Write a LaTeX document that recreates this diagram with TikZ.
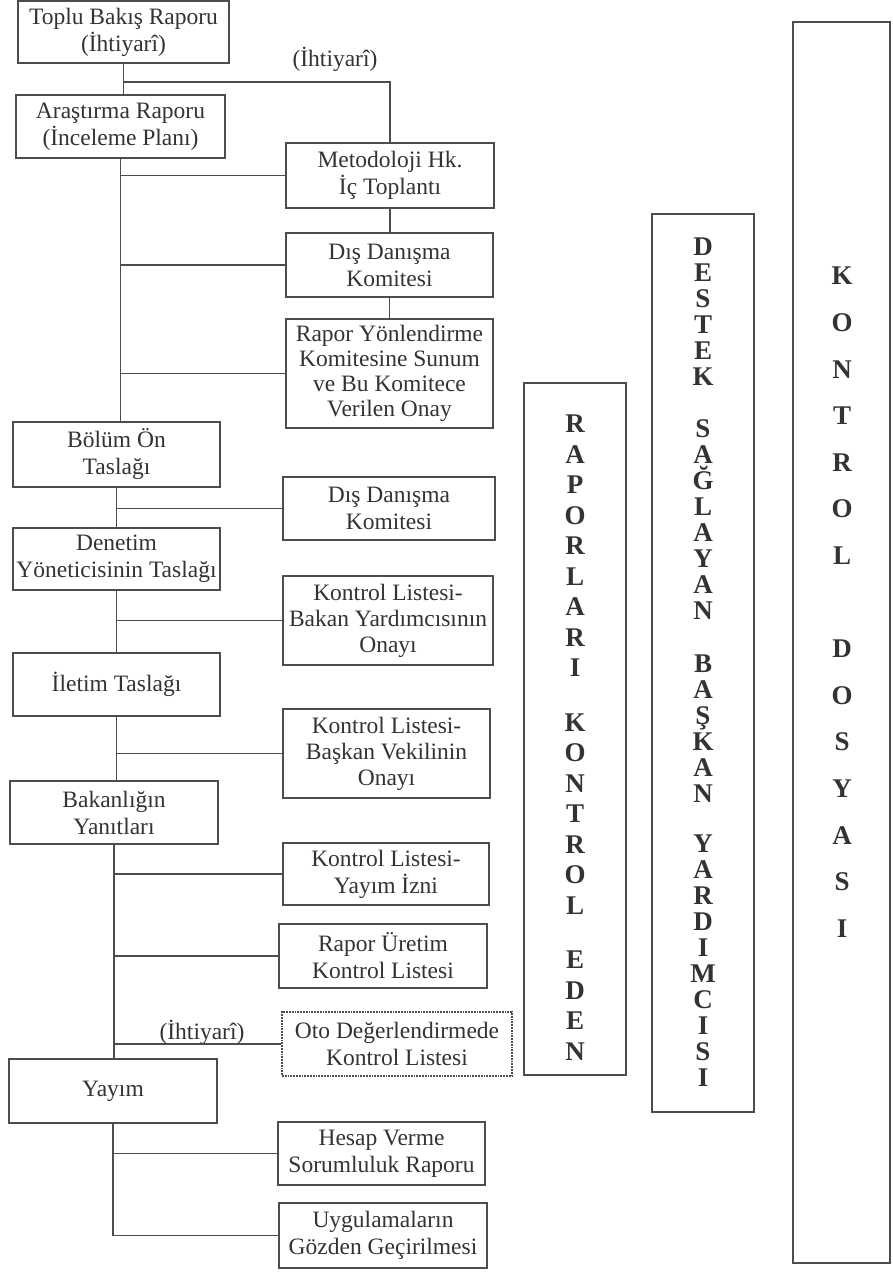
\documentclass[tikz,border=0pt]{standalone}
\usepackage{fontspec}
\setmainfont{Liberation Serif}
\usetikzlibrary{calc}
\definecolor{ink}{HTML}{333333}
\definecolor{rule}{HTML}{4D4D4D}
\begin{document}
\begin{tikzpicture}[x=1pt,y=-1pt,
  stage/.style={draw=rule, line width=1.8pt, text=ink, align=center, inner sep=0pt,
    minimum width=208pt, minimum height=63pt, font=\fontsize{23.5}{27}\selectfont},
  optbox/.style={stage, densely dotted, line width=1.2pt},
  link/.style={draw=rule, line width=1.8pt},
  optlink/.style={draw=rule, line width=1.2pt},
  column/.style={draw=rule, line width=1.8pt, inner sep=0pt, minimum width=102pt},
  letters/.style={text=ink, align=center, inner sep=0pt, anchor=north},
  note/.style={text=ink, font=\fontsize{23.5}{27}\selectfont, inner sep=0pt}]
\useasboundingbox (0,0) rectangle (892,1272);

% main sequence (left)
\node[stage, minimum width=211pt, minimum height=62pt] (toplu) at (123.5,32) {Toplu Bakış Raporu\\(İhtiyarî)};
\node[stage, minimum width=209pt] (aras) at (120.5,126.5) {Araştırma Raporu\\(İnceleme Planı)};
\node[stage, minimum width=207pt, minimum height=65pt] (bolum) at (116.5,454.5) {Bölüm Ön\\Taslağı};
\node[stage, minimum width=207pt, minimum height=62pt] (denetim) at (116.5,559) {Denetim\\Yöneticisinin Taslağı};
\node[stage, minimum width=207pt] (iletim) at (116.5,684.5) {İletim Taslağı};
\node[stage] (bakanlik) at (114,812.5) {Bakanlığın\\Yanıtları};
\node[stage, minimum height=64pt] (yayim) at (113,1091) {Yayım};

% checkpoints (right)
\node[stage, minimum height=65pt] (meto) at (390,175.5) {Metodoloji Hk.\\İç Toplantı};
\node[stage, minimum width=207pt, minimum height=64pt] (dis1) at (389.5,265) {Dış Danışma\\Komitesi};
\node[stage, minimum width=207pt, minimum height=109pt, font=\fontsize{23.5}{25}\selectfont] (sunum) at (389.5,373.5)
  {Rapor Yönlendirme\\Komitesine Sunum\\ve Bu Komitece\\Verilen Onay};
\node[stage, minimum width=212pt] (dis2) at (389,508.5) {Dış Danışma\\Komitesi};
\node[stage, minimum width=210pt, minimum height=89pt, font=\fontsize{23.5}{26}\selectfont] (klbakan) at (388,620.5)
  {Kontrol Listesi-\\Bakan Yardımcısının\\Onayı};
\node[stage, minimum width=207pt, minimum height=89pt, font=\fontsize{23.5}{26}\selectfont] (klbaskan) at (386.5,753.5)
  {Kontrol Listesi-\\Başkan Vekilinin\\Onayı};
\node[stage, minimum width=206pt, minimum height=62pt] (klyayim) at (386,874) {Kontrol Listesi-\\Yayım İzni};
\node[stage, minimum height=64pt] (uretim) at (383,956) {Rapor Üretim\\Kontrol Listesi};
\node[optbox, minimum width=230pt, minimum height=64pt] (oto) at (397,1044) {Oto Değerlendirmede\\Kontrol Listesi};
\node[stage, minimum width=207pt] (hesap) at (381.5,1153.5) {Hesap Verme\\Sorumluluk Raporu};
\node[stage, minimum height=65pt] (uygulama) at (383,1235.5) {Uygulamaların\\Gözden Geçirilmesi};

% optional labels
\node[note] (optTop) at (335,59) {(İhtiyarî)};
\node[note] (optBottom) at (202,1032) {(İhtiyarî)};

% responsibility columns
\node[column, minimum height=692pt] (rkbox) at (575,729) {};
\node[letters, font=\bfseries\fontsize{27}{30.5}\selectfont] (rktext) at (575,415)
  {R\\A\\P\\O\\R\\L\\A\\R\\I\\[24pt]K\\O\\N\\T\\R\\O\\L\\[24pt]E\\D\\E\\N};

\node[column, minimum height=898pt] (dsbox) at (703,663) {};
\node[letters, font=\bfseries\fontsize{27}{26}\selectfont] (dstext) at (703,238)
  {D\\E\\S\\T\\E\\K\\[26pt]S\\A\\Ğ\\L\\A\\Y\\A\\N\\[27pt]B\\A\\Ş\\K\\A\\N\\[24pt]Y\\A\\R\\D\\I\\M\\C\\I\\S\\I};

\node[column, minimum width=97pt, minimum height=1241pt] (kdbox) at (841.5,642.5) {};
\node[letters, font=\bfseries\fontsize{27}{46.6}\selectfont] (kdtext) at (842,267)
  {K\\O\\N\\T\\R\\O\\L\\[46.6pt]D\\O\\S\\Y\\A\\S\\I};

% trunk
\draw[link] (toplu.south) -- (toplu.south |- aras.north);
\draw[link] (aras.south) -- (aras.south |- bolum.north);
\draw[link] (bolum.south) -- (bolum.south |- denetim.north);
\draw[link] (denetim.south) -- (denetim.south |- iletim.north);
\draw[link] (iletim.south) -- (iletim.south |- bakanlik.north);
\draw[link] (bakanlik.south) -- (bakanlik.south |- yayim.north);
\draw[link] (yayim.south) |- (uygulama.west);

% branches
\foreach \b/\u in {meto/aras, dis1/aras, sunum/aras, dis2/bolum, klbakan/denetim,
  klbaskan/iletim, klyayim/bakanlik, uretim/bakanlik, oto/bakanlik, hesap/yayim}
  \draw[link] (\b.west) -- (\b.west -| \u.south);

% links between checkpoints
\coordinate (optrow) at (0,82);
\draw[optlink] (toplu.south |- optrow) -| (meto.north);
\draw[optlink] (meto.south) -- (meto.south |- dis1.north);
\draw[link] (dis1.south) -- (dis1.south |- sunum.north);
\end{tikzpicture}
\end{document}
